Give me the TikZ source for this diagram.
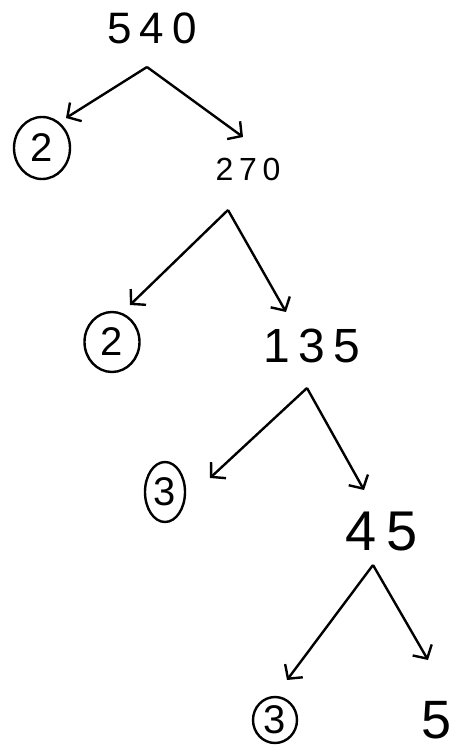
\documentclass[tikz,border=0pt]{standalone}
\usepackage{fontspec}
\newfontfamily\hand[LetterSpace=18]{Liberation Sans}
\usetikzlibrary{arrows.meta,shapes.geometric}
\begin{document}
\begin{tikzpicture}[x=1pt,y=-1pt,
  num/.style={font=\hand\fontsize{#1}{#1}\selectfont, inner sep=0pt},
  prime/.style={draw, ellipse, line width=2.4pt, inner sep=0pt, font=\hand\fontsize{40}{40}\selectfont},
  branch/.style={line width=2.4pt, -{Straight Barb[length=10pt,width=22pt,line width=2.4pt]}}]
\useasboundingbox (0,0) rectangle (456,753);
% numbers
\node[num=44] (n540) at (152,28) {540};
\node[num=32] (n270) at (248,169) {270};
\node[num=48] (n135) at (312,346) {135};
\node[num=56] (n45) at (382,532) {45};
\node[num=54] (n5) at (437,720) {5};
% circled primes
\node[prime, minimum width=56pt, minimum height=62pt] (p1) at (42,148) {2};
\node[prime, minimum width=55pt, minimum height=60pt] (p2) at (112,342) {2};
\node[prime, minimum width=40pt, minimum height=60pt] (p3) at (165,492) {3};
\node[prime, minimum width=44pt, minimum height=46pt] (p4) at (275,720) {3};
% apexes and arrow tips
\coordinate (a1) at (147,67);
\coordinate (t1l) at (66,118);
\coordinate (t1r) at (243,137);
\coordinate (a2) at (228,210);
\coordinate (t2l) at (130,305);
\coordinate (t2r) at (286,312);
\coordinate (a3) at (307,388);
\coordinate (t3l) at (210,478);
\coordinate (t3r) at (364,490);
\coordinate (a4) at (373,565);
\coordinate (t4l) at (287,680);
\coordinate (t4r) at (428,660);
\draw[branch] (a1) -- (t1l);
\draw[branch] (a1) -- (t1r);
\draw[branch] (a2) -- (t2l);
\draw[branch] (a2) -- (t2r);
\draw[branch] (a3) -- (t3l);
\draw[branch] (a3) -- (t3r);
\draw[branch] (a4) -- (t4l);
\draw[branch] (a4) -- (t4r);
\end{tikzpicture}
\end{document}
